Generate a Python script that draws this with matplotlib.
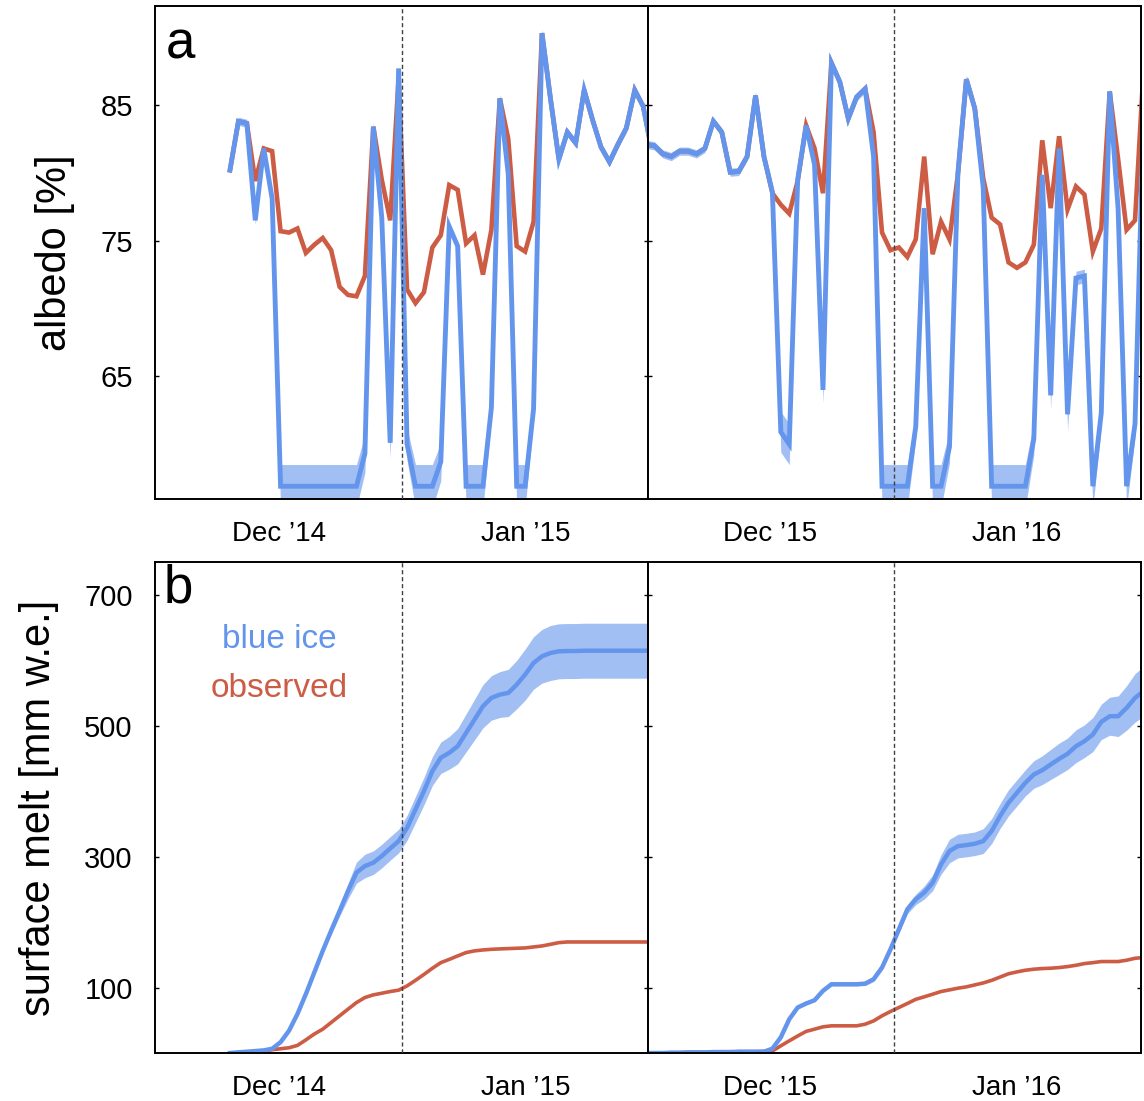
import matplotlib
matplotlib.use('Agg')
import matplotlib.pyplot as plt
import numpy as np

plt.rcParams['font.family'] = ['Liberation Sans', 'DejaVu Sans']

BLUE = '#6495ED'
RED = '#CD5C45'

# season 2014/15 (daily values, index 0 = first day shown)
albedo_blue_14 = [80.2, 83.8, 83.65, 76.5, 81.8, 78.1, 56.9, 56.9, 56.9, 56.9,
                  56.9, 56.9, 56.9, 56.9, 56.9, 56.9, 59.3, 83.4, 76.7, 60.1,
                  87.7, 60.0, 56.9, 56.9, 56.9, 58.7, 76.05, 74.6, 56.9, 56.9,
                  56.9, 62.7, 85.5, 79.9, 56.9, 56.9, 62.6, 90.3, 85.5, 81.0,
                  83.0, 82.2, 86.1, 83.9, 81.9, 80.8, 82.1, 83.3, 86.1, 84.9,
                  81.7]
albedo_band_14 = [0.3, 0.3, 0.3, 0.3, 0.3, 0.3, 1.6, 1.6, 1.6, 1.6,
                  1.6, 1.6, 1.6, 1.6, 1.6, 1.6, 1.4, 0.3, 0.3, 1.2,
                  0.3, 1.2, 1.6, 1.6, 1.6, 1.4, 0.3, 0.3, 1.6, 1.6,
                  1.6, 0.8, 0.3, 0.3, 1.6, 1.6, 0.8, 0.3, 0.3, 0.3,
                  0.3, 0.3, 0.3, 0.3, 0.3, 0.3, 0.3, 0.3, 0.3, 0.3,
                  0.3]
albedo_obs_14 = [80.2, 83.8, 83.65, 79.4, 81.8, 81.6, 75.7, 75.6, 75.9, 74.1,
                 74.7, 75.2, 74.3, 71.6, 71.0, 70.9, 72.4, 83.4, 79.5, 76.5,
                 87.0, 71.4, 70.4, 71.2, 74.5, 75.4, 79.1, 78.75, 74.8, 75.4,
                 72.5, 75.8, 85.5, 82.5, 74.6, 74.2, 76.4, 90.3, 85.5, 81.0,
                 83.0, 82.2, 86.1, 83.9, 81.9, 80.8, 82.1, 83.3, 86.1, 84.9,
                 81.7]
melt_blue_14 = [0, 1, 2, 3, 4, 6.5, 16.5, 34, 59.5, 90,
                123, 156, 187, 217, 247.5, 275.5, 285.6, 290.7, 300.8, 312.5,
                323.7, 344, 372, 400, 430.5, 451, 458.5, 468.6, 489, 509.3,
                529.7, 542.4, 547.5, 550, 562.7, 578, 595.8, 606, 611, 613.6,
                614, 614, 614.5, 614.5, 614.5, 614.5, 614.5, 614.5, 614.5, 614.5,
                614.5]
melt_band_14 = [0.5, 0.5, 0.5, 0.5, 0.5, 1, 1.5, 2, 2.5, 3,
                3.5, 4, 6, 8, 12, 16, 18, 18, 18, 18,
                18, 19, 20, 21, 22, 24, 25, 27, 29, 31,
                33, 34, 35, 36, 37, 39, 40, 41, 42, 42,
                42, 42, 42, 42, 42, 42, 42, 42, 42, 42,
                42]
melt_obs_14 = [0, 0.5, 1, 2, 3, 5, 6.5, 8, 11.6, 20,
               29, 36.4, 46.6, 56.8, 67, 77, 84.7, 88.8, 91.3, 93.9,
               96, 102.5, 111, 120, 129.4, 138, 143, 148.3, 153.4, 156,
               157.4, 158.4, 159, 159.5, 160, 160.5, 162, 163.5, 166, 168.6,
               169.6, 169.6, 169.6, 169.6, 169.6, 169.6, 169.6, 169.6, 169.6, 169.6,
               169.6]

# season 2015/16
albedo_blue_15 = [82.1, 82.0, 81.4, 81.2, 81.6, 81.6, 81.4, 81.8, 83.8, 83.0,
                  80.05, 80.1, 81.2, 85.7, 81.2, 78.6, 60.9, 60.0, 79.5, 83.5,
                  80.6, 64.0, 88.1, 86.7, 84.0, 85.6, 86.2, 81.2, 56.9, 56.9,
                  56.9, 56.9, 61.3, 77.4, 56.9, 56.9, 59.8, 80.0, 86.9, 84.75,
                  78.9, 56.9, 56.9, 56.9, 56.9, 56.9, 60.4, 79.85, 63.6, 81.8,
                  62.2, 72.25, 72.4, 56.9, 62.3, 86.0, 77.3, 56.9, 61.5, 84.0]
albedo_band_15 = [0.3, 0.3, 0.3, 0.3, 0.3, 0.3, 0.3, 0.3, 0.3, 0.3,
                  0.3, 0.3, 0.3, 0.3, 0.3, 0.3, 1.5, 1.5, 0.3, 0.3,
                  0.3, 1.0, 0.3, 0.3, 0.3, 0.3, 0.3, 0.3, 1.6, 1.6,
                  1.6, 1.6, 1.0, 0.3, 1.6, 1.6, 1.2, 0.3, 0.3, 0.3,
                  0.3, 1.6, 1.6, 1.6, 1.6, 1.6, 1.2, 0.3, 1.0, 0.3,
                  1.2, 0.5, 0.5, 1.6, 1.0, 0.3, 0.3, 1.6, 1.0, 0.3]
albedo_obs_15 = [82.1, 82.0, 81.4, 81.2, 81.6, 81.6, 81.4, 81.8, 83.8, 83.0,
                 80.05, 80.1, 81.2, 85.7, 81.2, 78.5, 77.65, 77.0, 79.4, 83.5,
                 81.8, 78.5, 88.1, 86.7, 84.0, 85.6, 86.2, 83.0, 75.6, 74.3,
                 74.5, 73.8, 75.1, 81.2, 74.0, 76.4, 75.1, 79.9, 86.9, 84.75,
                 79.6, 76.7, 76.2, 73.4, 73.0, 73.4, 74.7, 82.4, 77.4, 82.7,
                 77.3, 79.0, 78.4, 74.2, 75.9, 86.0, 81.0, 75.8, 76.5, 87.5]
melt_blue_15 = [0, 0, 0, 0.5, 0.5, 1, 1, 1, 1.5, 1.5,
                1.5, 2, 2, 2, 2, 6.6, 24, 51.6, 69.5, 75.6,
                80.6, 95, 105, 105, 105, 105, 106, 112.7, 130.5, 158.4,
                189, 219.5, 234.7, 245, 260, 288, 308.5, 316, 317.6, 319.6,
                323.7, 339, 362, 382.2, 397.4, 412.7, 425.4, 432, 440.7, 449.3,
                457, 468.6, 476.3, 486.4, 505.8, 514.4, 514.4, 527, 542.4, 552.5]
melt_band_15 = [0.5, 0.5, 0.5, 0.5, 0.5, 0.5, 0.5, 0.5, 0.5, 0.5,
                0.5, 0.5, 0.5, 0.5, 0.5, 1, 1.5, 2, 2, 2,
                2, 2.5, 2.5, 2.5, 2.5, 2.5, 3, 3.5, 4, 5,
                6, 7, 8, 10, 12, 15, 18, 18, 18, 18,
                19, 19, 19, 20, 20, 20, 21, 22, 23, 24,
                24, 25, 25, 26, 27, 29, 31, 34, 37, 38]
melt_obs_15 = [0, 0, 0, 0.5, 0.5, 1, 1, 1, 1.5, 1.5,
               1.5, 2, 2, 2, 2.5, 3, 11, 18.6, 26, 33,
               36.4, 40, 41.5, 41.5, 41.5, 41.5, 44, 49, 56.8, 63.4,
               69.5, 75.6, 82, 85.8, 89.8, 93.9, 96.4, 99, 101, 104,
               107, 111, 116, 121, 123.9, 126.4, 128, 129, 129.5, 130.5,
               132, 134, 136.6, 138, 139.7, 139.7, 139.7, 141.7, 144.7, 145.8]

# axis layout in day-index units for each season
xlim_14 = (-8.89, 49.57)
xlim_15 = (0.25, 58.71)
ticks_14 = [5.81, 35.1]
ticks_15 = [14.72, 44.0]
ticklabels_14 = ['Dec \u201914', 'Jan \u201915']
ticklabels_15 = ['Dec \u201915', 'Jan \u201916']
marker_day_14 = 20.4
marker_day_15 = 29.41

W, H = 1144, 1101
fig = plt.figure(figsize=(W / 100, H / 100), dpi=100)

x0, xm, x1 = 155 / W, 648 / W, 1141 / W
top_row = (1 - 499 / H, (499 - 6) / H)
bot_row = (1 - 1053 / H, (1053 - 562) / H)

ax_a1 = fig.add_axes([x0, top_row[0], xm - x0, top_row[1]])
ax_a2 = fig.add_axes([xm, top_row[0], x1 - xm, top_row[1]])
ax_b1 = fig.add_axes([x0, bot_row[0], xm - x0, bot_row[1]])
ax_b2 = fig.add_axes([xm, bot_row[0], x1 - xm, bot_row[1]])


def draw_albedo(ax, blue, band, obs):
    x = np.arange(len(blue))
    b = np.array(blue)
    hw = np.array(band)
    ax.fill_between(x, b - hw, b + hw, color=BLUE, alpha=0.6, lw=0)
    ax.plot(x, obs, color=RED, lw=3.3, solid_joinstyle='miter')
    ax.plot(x, blue, color=BLUE, lw=3.5, solid_joinstyle='miter')


def draw_melt(ax, blue, band, obs):
    x = np.arange(len(blue))
    b = np.array(blue)
    hw = np.array(band)
    ax.fill_between(x, b - hw, b + hw, color=BLUE, alpha=0.6, lw=0)
    ax.plot(x, obs, color=RED, lw=2.6)
    ax.plot(x, blue, color=BLUE, lw=3.2)


draw_albedo(ax_a1, albedo_blue_14, albedo_band_14, albedo_obs_14)
draw_albedo(ax_a2, albedo_blue_15, albedo_band_15, albedo_obs_15)
draw_melt(ax_b1, melt_blue_14, melt_band_14, melt_obs_14)
draw_melt(ax_b2, melt_blue_15, melt_band_15, melt_obs_15)

for ax, xl, tk, tl, md in [(ax_a1, xlim_14, ticks_14, ticklabels_14, marker_day_14),
                           (ax_a2, xlim_15, ticks_15, ticklabels_15, marker_day_15),
                           (ax_b1, xlim_14, ticks_14, ticklabels_14, marker_day_14),
                           (ax_b2, xlim_15, ticks_15, ticklabels_15, marker_day_15)]:
    ax.set_xlim(*xl)
    ax.set_xticks(tk)
    ax.set_xticklabels(tl)
    ax.axvline(md, color='#404040', lw=1.0, ls=(0, (3, 2)), zorder=5)
    ax.tick_params(axis='x', length=0, pad=16, labelsize=20)
    ax.tick_params(axis='y', direction='in', left=True, right=True,
                   length=3, width=1, pad=16, labelsize=21)
    for s in ax.spines.values():
        s.set_linewidth(1.4)

for ax in (ax_a1, ax_a2):
    ax.set_ylim(55.96, 92.3)
    ax.set_yticks([65, 75, 85])
for ax in (ax_b1, ax_b2):
    ax.set_ylim(0, 750)
    ax.set_yticks([100, 300, 500, 700])

ax_a2.tick_params(axis='y', labelleft=False)
ax_b2.tick_params(axis='y', labelleft=False)

ax_a1.set_ylabel('albedo [%]', fontsize=30, labelpad=18)
ax_b1.set_ylabel('surface melt [mm w.e.]', fontsize=30, labelpad=18)

ax_a1.text(0.022, 0.8945, 'a', transform=ax_a1.transAxes, fontsize=38,
           ha='left', va='baseline')
ax_b1.text(0.018, 0.9165, 'b', transform=ax_b1.transAxes, fontsize=38,
           ha='left', va='baseline')
ax_b1.text(0.2525, 0.8248, 'blue ice', transform=ax_b1.transAxes, fontsize=24,
           color=BLUE, ha='center', va='baseline')
ax_b1.text(0.2525, 0.725, 'observed', transform=ax_b1.transAxes, fontsize=24,
           color=RED, ha='center', va='baseline')

fig.savefig('out.png', dpi=100)
